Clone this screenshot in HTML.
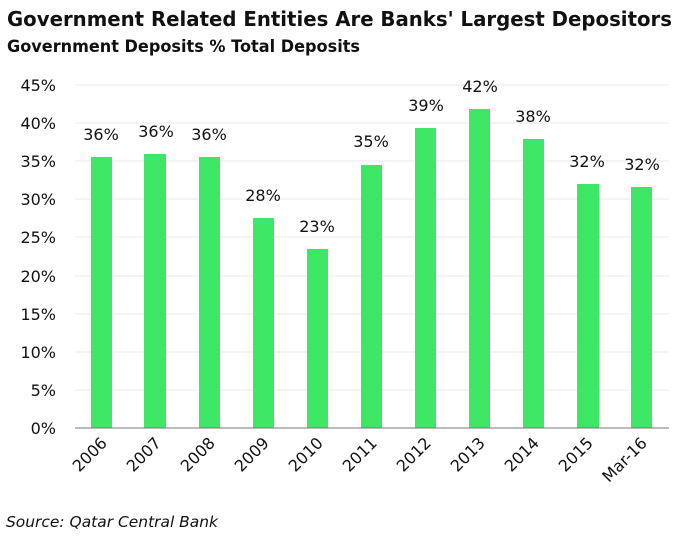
<!DOCTYPE html>
<html><head><style>
body{margin:0;background:#fff;width:690px;height:547px;overflow:hidden;font-family:"DejaVu Sans","Liberation Sans",sans-serif;}
</style></head><body>
<svg width="690" height="547" xmlns="http://www.w3.org/2000/svg" font-family="DejaVu Sans, Liberation Sans, sans-serif">
<text x="7" y="26" font-size="20" font-weight="bold" fill="#111" textLength="665" lengthAdjust="spacingAndGlyphs">Government Related Entities Are Banks' Largest Depositors</text>
<text x="7" y="52" font-size="17" font-weight="bold" fill="#111" textLength="353" lengthAdjust="spacingAndGlyphs">Government Deposits % Total Deposits</text>
<g stroke="#e8e8e8" stroke-width="1">
<line x1="75" x2="669" y1="85" y2="85"/><line x1="75" x2="669" y1="123" y2="123"/><line x1="75" x2="669" y1="161" y2="161"/><line x1="75" x2="669" y1="199" y2="199"/><line x1="75" x2="669" y1="237" y2="237"/><line x1="75" x2="669" y1="276" y2="276"/><line x1="75" x2="669" y1="314" y2="314"/><line x1="75" x2="669" y1="352" y2="352"/><line x1="75" x2="669" y1="390" y2="390"/>
</g>
<g font-size="16" fill="#111" text-anchor="end">
<text x="56" y="91">45%</text><text x="56" y="129">40%</text><text x="56" y="167">35%</text><text x="56" y="205">30%</text><text x="56" y="243">25%</text><text x="56" y="282">20%</text><text x="56" y="320">15%</text><text x="56" y="358">10%</text><text x="56" y="396">5%</text><text x="56" y="434">0%</text>
</g>
<g fill="#3de665">
<rect x="91" y="157" width="21" height="271"/><rect x="144" y="154" width="22" height="274"/><rect x="199" y="157" width="21" height="271"/><rect x="253" y="218" width="21" height="210"/><rect x="307" y="249" width="21" height="179"/><rect x="361" y="165" width="21" height="263"/><rect x="415" y="128" width="21" height="300"/><rect x="469" y="109" width="21" height="319"/><rect x="523" y="139" width="21" height="289"/><rect x="577" y="184" width="22" height="244"/><rect x="631" y="187" width="21" height="241"/>
</g>
<line x1="75" x2="669" y1="428" y2="428" stroke="#777" stroke-width="1"/>
<g font-size="16" fill="#111" text-anchor="middle">
<text x="101" y="140">36%</text><text x="156" y="137">36%</text><text x="209" y="140">36%</text><text x="263" y="201">28%</text><text x="317" y="232">23%</text><text x="371" y="147">35%</text><text x="426" y="111">39%</text><text x="480" y="92">42%</text><text x="533" y="122">38%</text><text x="587" y="167">32%</text><text x="642" y="170">32%</text>
</g>
<g font-size="16" fill="#111" text-anchor="end">
<text transform="translate(108,444) rotate(-45)">2006</text>
<text transform="translate(162,444) rotate(-45)">2007</text>
<text transform="translate(216,444) rotate(-45)">2008</text>
<text transform="translate(270,444) rotate(-45)">2009</text>
<text transform="translate(324,444) rotate(-45)">2010</text>
<text transform="translate(378,444) rotate(-45)">2011</text>
<text transform="translate(432,444) rotate(-45)">2012</text>
<text transform="translate(486,444) rotate(-45)">2013</text>
<text transform="translate(540,444) rotate(-45)">2014</text>
<text transform="translate(594,444) rotate(-45)">2015</text>
<text transform="translate(648,444) rotate(-45)">Mar-16</text>
</g>
<text x="6" y="527" font-size="15" font-style="italic" fill="#111" textLength="212" lengthAdjust="spacingAndGlyphs">Source: Qatar Central Bank</text>
</svg>
</body></html>
